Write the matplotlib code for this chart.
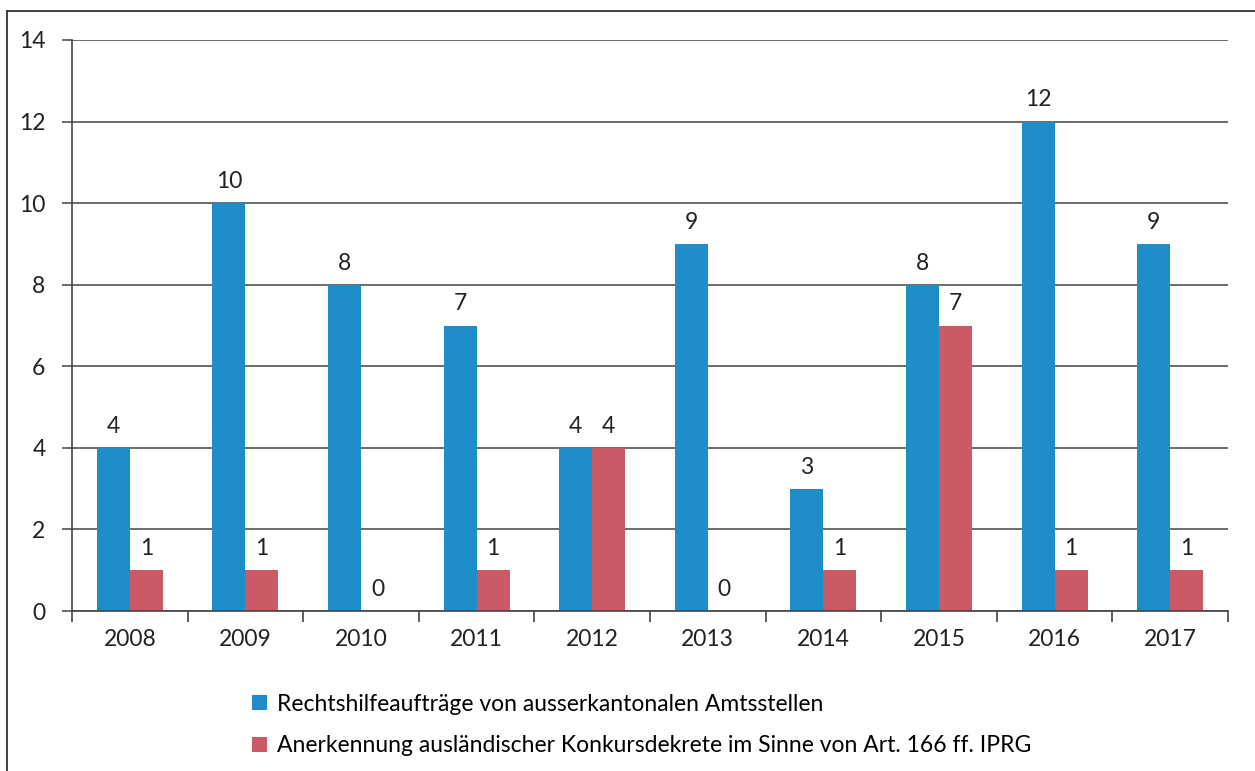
import numpy as np
import matplotlib.pyplot as plt
from matplotlib.lines import Line2D

plt.rcParams.update({
    'font.family': ['Lato', 'DejaVu Sans'],
    'font.size': 16.5,
})

# Data
years = ['2008', '2009', '2010', '2011', '2012', '2013', '2014', '2015', '2016', '2017']
rechtshilfe = [4, 10, 8, 7, 4, 9, 3, 8, 12, 9]
anerkennung = [1, 1, 0, 1, 4, 0, 1, 7, 1, 1]
labels = ['Rechtshilfeaufträge von ausserkantonalen Amtsstellen',
          'Anerkennung ausländischer Konkursdekrete im Sinne von Art. 166 ff. IPRG']

blue = '#1e8dc8'
red = '#cc5a66'

W, H = 1255, 771
fig = plt.figure(figsize=(W/100, H/100), dpi=100)
ax = fig.add_axes([72/W, 1 - 611/H, (1228 - 72)/W, (611 - 40)/H])

x = np.arange(len(years))
bw = 0.285
b1 = ax.bar(x - bw/2, rechtshilfe, bw, color=blue, label=labels[0])
b2 = ax.bar(x + bw/2, anerkennung, bw, color=red, label=labels[1])

for bars in (b1, b2):
    for rect in bars:
        h = rect.get_height()
        ax.annotate(f'{int(h)}', (rect.get_x() + rect.get_width()/2, h),
                    xytext=(0, 8), textcoords='offset points',
                    ha='center', va='bottom', fontsize=16.5, color='#222222')

ax.set_xlim(-0.5, len(years) - 0.5)
ax.set_ylim(0, 14)
ax.set_yticks(range(0, 15, 2))
ax.yaxis.grid(True, color='#444444', linewidth=1.1)
ax.set_axisbelow(True)

# category labels centred, ticks on boundaries
ax.set_xticks(x)
ax.set_xticklabels(years)
ax.tick_params(axis='x', length=0, pad=13, labelsize=16.5, colors='#222222')
ax.set_xticks(np.arange(-0.5, len(years) + 0.5, 1), minor=True)
ax.tick_params(axis='x', which='minor', length=8, width=1.2, color='#444444', direction='out')
ax.tick_params(axis='y', length=7, width=1.1, color='#444444', pad=12, labelsize=16.5, colors='#222222')

for s in ['top', 'right']:
    ax.spines[s].set_visible(False)
for s in ['left', 'bottom']:
    ax.spines[s].set_color('#444444')
    ax.spines[s].set_linewidth(1.2)

leg = fig.legend(loc='upper left', bbox_to_anchor=(231/W, 1 - 673/H), frameon=False,
                 handlelength=0.65, handleheight=0.65, handletextpad=0.45,
                 labelspacing=0.9, fontsize=16.5)

# outer chart border (scan cut off at right/bottom)
fig.add_artist(Line2D([7/W, 1], [1 - 11/H, 1 - 11/H], transform=fig.transFigure,
                      color='#333333', linewidth=1.3))
fig.add_artist(Line2D([7/W, 7/W], [0, 1 - 11/H], transform=fig.transFigure,
                      color='#333333', linewidth=1.3))

fig.savefig('out.png', dpi=100)
